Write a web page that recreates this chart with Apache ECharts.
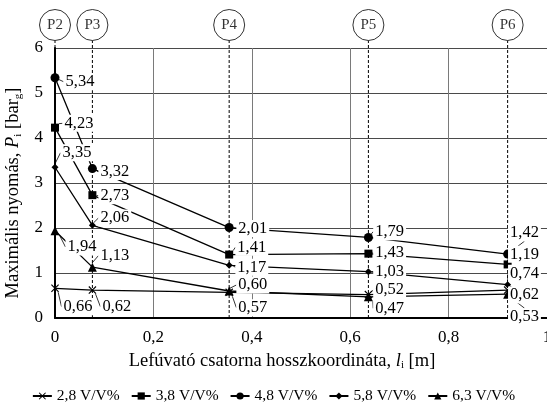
<!DOCTYPE html>
<html><head><meta charset="utf-8">
<script src="https://cdn.jsdelivr.net/npm/echarts@6/dist/echarts.min.js"></script>
<style>html,body{margin:0;padding:0;background:#fff}#c{width:547px;height:409px}</style>
</head><body><div id="c"></div>
<script>
// ---- data ----
const pointNames = ['P2', 'P3', 'P4', 'P5', 'P6'];
const positions = [0, 0.076, 0.354, 0.637, 0.92];
const seriesNames = ['2,8 V/V%', '3,8 V/V%', '4,8 V/V%', '5,8 V/V%', '6,3 V/V%'];
const v28 = [0.66, 0.62, 0.57, 0.52, 0.62];
const v38 = [4.23, 2.73, 1.41, 1.43, 1.19];
const v48 = [5.34, 3.32, 2.01, 1.79, 1.42];
const v58 = [3.35, 2.06, 1.17, 1.03, 0.74];
const v63 = [1.94, 1.13, 0.60, 0.47, 0.53];
const xTickLabels = ['0', '0,2', '0,4', '0,6', '0,8', '1'];
const yTickLabels = ['0', '1', '2', '3', '4', '5', '6'];

// ---- label placement (pixel offsets from the point) ----
const labelOffsets = {
  v28: [[6.5, 18.4], [8, 16.6], [7.2, 15.3], [4.8, -4.6], [0.4, 4.9]],
  v38: [[7.5, -4.3], [6, 0.5], [6.2, -7.3], [4.8, -1.3], [0.4, -10.2]],
  v48: [[8.5, 4], [6, 3], [7.2, 1], [4.8, -5.8], [0.4, -21.4]],
  v58: [[5.5, -14.5], [6, -7.3], [6.2, 2], [4.8, 0], [0.4, -11.4]],
  v63: [[10.5, 16.3], [6, -11.5], [7.2, -6], [4.8, 11.5], [0.4, 22.5]]
};

const FF = 'Liberation Serif';
const fmt = v => v.toFixed(2).replace('.', ',');
const crossPath = 'path://M0,1L1,0L5,4L9,0L10,1L6,5L10,9L9,10L5,6L1,10L0,9L4,5Z';

function mk(name, vals, offs, symbol, size) {
  return {
    name: name, type: 'line',
    data: positions.map((x, i) => ({ value: [x, vals[i]], label: { offset: offs[i] } })),
    symbol: symbol, symbolSize: size,
    color: '#000',
    lineStyle: { color: '#000', width: 1.3 },
    itemStyle: { color: '#000' },
    label: {
      show: true, position: 'inside', align: 'left', verticalAlign: 'middle',
      formatter: p => fmt(p.value[1]),
      fontFamily: FF, fontSize: 16.5, color: '#000',
      backgroundColor: '#fff', padding: [0, 2]
    },
    labelLine: { show: true, lineStyle: { color: '#000', width: 0.8 } },
    z: 3, clip: false
  };
}

const dashData = [];
positions.forEach(x => { dashData.push([x, 0], [x, 6.17], [x, '-']); });

const option = {
  animation: false,
  backgroundColor: '#fff',
  grid: { left: 55, right: 0, top: 48, bottom: 91, containLabel: false, outerBoundsMode: 'none' },
  legend: {
    data: seriesNames, left: 'center', top: 383,
    itemWidth: 19, itemHeight: 9, itemGap: 11,
    textStyle: { fontFamily: FF, fontSize: 15.5, color: '#000' }
  },
  xAxis: {
    type: 'value', min: 0, max: 1, interval: 0.2,
    axisLine: { show: true, onZero: false, lineStyle: { color: '#000', width: 2 } },
    axisTick: { show: false },
    axisLabel: { margin: 11, fontFamily: FF, fontSize: 17, color: '#000',
      formatter: (v) => xTickLabels[Math.round(v / 0.2)] },
    splitLine: { show: true, lineStyle: { color: '#7a7a7a', width: 1 } },
    name: 'Lefúvató csatorna hosszkoordináta, {it|l}{sub|i} [m]',
    nameLocation: 'middle', nameGap: 33,
    nameTextStyle: { fontFamily: FF, fontSize: 18.5, color: '#000', padding: [0, 38, 0, 0],
      rich: { it: { fontFamily: FF, fontSize: 18.5, fontStyle: 'italic' },
              sub: { fontFamily: FF, fontSize: 11, padding: [9, 0, 0, 0] } } }
  },
  yAxis: {
    type: 'value', min: 0, max: 6, interval: 1,
    axisLine: { show: true, onZero: false, lineStyle: { color: '#000', width: 2 } },
    axisTick: { show: false },
    axisLabel: { margin: 12, fontFamily: FF, fontSize: 17, color: '#000',
      formatter: (v) => yTickLabels[Math.round(v)] },
    splitLine: { show: true, lineStyle: { color: '#4a4a4a', width: 1 } },
    name: 'Maximális nyomás, {it|P}{sub|i} [bar{sub|g}]',
    nameLocation: 'middle', nameGap: 31, nameRotate: 90,
    nameTextStyle: { fontFamily: FF, fontSize: 18.5, color: '#000', padding: [0, 20, 0, 0],
      rich: { it: { fontFamily: FF, fontSize: 18.5, fontStyle: 'italic' },
              sub: { fontFamily: FF, fontSize: 11, padding: [9, 0, 0, 0] } } }
  },
  series: [
    {
      name: 'guides', type: 'line', data: dashData, symbol: 'none', clip: false,
      connectNulls: false, silent: true, z: 2,
      lineStyle: { color: '#000', width: 1, type: [3, 2] }
    },
    mk(seriesNames[0], v28, labelOffsets.v28, crossPath, 8),
    mk(seriesNames[1], v38, labelOffsets.v38, 'rect', 8),
    mk(seriesNames[2], v48, labelOffsets.v48, 'circle', 9),
    mk(seriesNames[3], v58, labelOffsets.v58, 'diamond', 7),
    mk(seriesNames[4], v63, labelOffsets.v63, 'triangle', 9),
    {
      name: 'points', type: 'scatter', data: positions.map(x => [x, 6]),
      symbol: 'circle', symbolSize: 31, symbolOffset: [0, -23], clip: false, z: 6, silent: true,
      itemStyle: { color: '#fff', borderColor: '#000', borderWidth: 1 },
      label: { show: true, position: 'inside', fontFamily: FF, fontSize: 15, color: '#000',
        formatter: p => pointNames[p.dataIndex] }
    }
  ]
};

const chart = echarts.init(document.getElementById('c'), null, { renderer: 'canvas' });
chart.setOption(option);
</script>
</body></html>
